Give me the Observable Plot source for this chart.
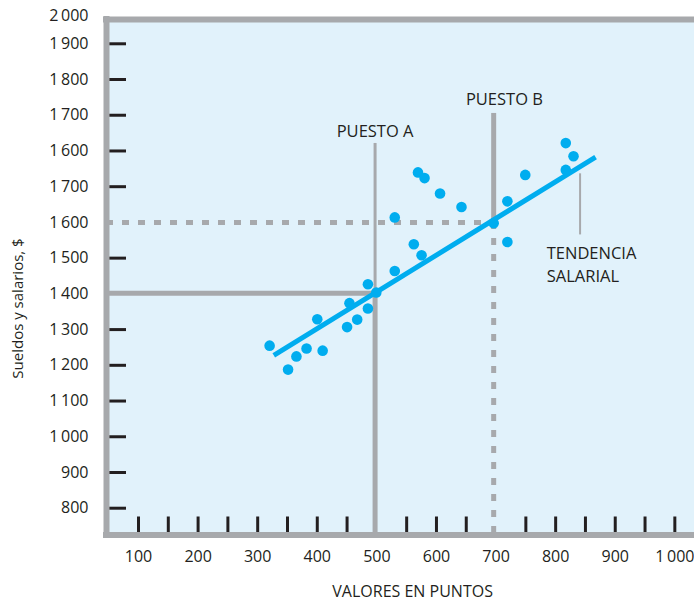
<!DOCTYPE html>
<html>
<head>
<meta charset="utf-8">
<script src="https://cdn.jsdelivr.net/npm/d3@7"></script>
<script src="https://cdn.jsdelivr.net/npm/@observablehq/plot@0.6"></script>
<style>
  html, body { margin: 0; padding: 0; background: #ffffff; }
  #chart { width: 694px; height: 603px; }
</style>
</head>
<body>
<div id="chart"></div>
<script>
// ---- data ----
const pointValues = [320, 351, 365, 382, 409, 400, 450, 467, 454, 485, 485, 499, 530, 530, 562, 575, 569, 580, 606, 642, 696, 719, 719, 749, 817, 830, 817];
const pointSalaries = [1255, 1188, 1225, 1247, 1241, 1329, 1307, 1328, 1374, 1359, 1427, 1404, 1464, 1614, 1539, 1508, 1740, 1724, 1681, 1643, 1598, 1659, 1545, 1733, 1747, 1785, 1822];
const trendValues = [327, 867];
const trendSalaries = [1228, 1783];
const xTickLabelValues = [100, 200, 300, 400, 500, 600, 700, 800, 900, 1000];
const xTickLabels = ["100", "200", "300", "400", "500", "600", "700", "800", "900", "1\u2009000"];
const xTickMarks = [100, 150, 200, 250, 300, 350, 400, 450, 550, 600, 650, 750, 800, 850, 900, 950, 1000];
const yTickValues = [800, 900, 1000, 1100, 1200, 1300, 1400, 1500, 1600, 1700, 1800, 1900, 2000, 2100, 2200];
const yTickLabels = ["800", "900", "1\u2009000", "1\u2009100", "1\u2009200", "1\u2009300", "1\u2009400", "1\u2009500", "1\u2009600", "1\u2009700", "1\u2009600", "1\u2009700", "1\u2009800", "1\u2009900", "2\u2009000"];
const puestoA = {value: 497, salary: 1402, top: 1821};
const puestoB = {value: 696, salary: 1600, top: 1905};
const leader = {value: 841, from: 1565, to: 1736};

// ---- layout / style ----
const W = 694, H = 603;
const mL = 106, mT = 19, mB = 68.5;
const xDom = [46.3, 1033];
const yDom = [725, 2168];
const gray = "#a7a9ac";
const blue = "#00adef";
const ink = "#231f20";
const fill = "#e1f2fb";

const points = pointValues.map((v, i) => ({x: v, y: pointSalaries[i]}));
const trend = trendValues.map((v, i) => ({x: v, y: trendSalaries[i]}));
const yTickData = yTickValues.map((v, i) => ({v, label: yTickLabels[i]}));
const yMarkTicks = yTickValues.filter(v => v <= yDom[1] && v !== 1400 && v !== 1600);

const chart = Plot.plot({
  width: W,
  height: H,
  marginLeft: mL,
  marginRight: 0,
  marginTop: mT,
  marginBottom: mB,
  x: {domain: xDom, axis: null},
  y: {domain: yDom, axis: null},
  style: {fontFamily: "'Open Sans', sans-serif", color: ink, background: "#ffffff", overflow: "visible"},
  marks: [
    Plot.frame({fill: fill, stroke: null}),
    // Puesto A
    Plot.ruleX([puestoA], {x: "value", y1: yDom[0], y2: "salary", stroke: gray, strokeWidth: 5}),
    Plot.ruleX([puestoA], {x: "value", y1: "salary", y2: "top", stroke: gray, strokeWidth: 3}),
    Plot.ruleY([puestoA], {y: "salary", x1: xDom[0], x2: "value", stroke: gray, strokeWidth: 5}),
    // Puesto B
    Plot.ruleX([puestoB], {x: "value", y1: "salary", y2: "top", stroke: gray, strokeWidth: 5}),
    Plot.ruleX([puestoB], {x: "value", y1: "salary", y2: yDom[0], stroke: gray, strokeWidth: 5, strokeDasharray: "7,9"}),
    Plot.ruleY([puestoB], {y: "salary", x1: xDom[0], x2: "value", stroke: gray, strokeWidth: 5, strokeDasharray: "7,9"}),
    // tick marks
    Plot.tickY(yMarkTicks, {y: d => d, stroke: ink, strokeWidth: 3, insetRight: W - mL - 20}),
    Plot.tickX(xTickMarks, {x: d => d, stroke: ink, strokeWidth: 3, insetTop: (H - mB - mT) - 18}),
    // frame borders (left, top, bottom)
    Plot.ruleX([xDom[0]], {y1: yDom[0], y2: yDom[1], stroke: gray, strokeWidth: 6, strokeLinecap: "square"}),
    Plot.ruleY([yDom[0], yDom[1]], {stroke: gray, strokeWidth: 6, strokeLinecap: "square"}),
    // leader line for trend label
    Plot.ruleX([leader], {x: "value", y1: "from", y2: "to", stroke: gray, strokeWidth: 2}),
    // trend line and dots
    Plot.line(trend, {x: "x", y: "y", stroke: blue, strokeWidth: 5, strokeLinecap: "butt"}),
    Plot.dot(points, {x: "x", y: "y", r: 5.3, fill: blue, stroke: null}),
    // tick labels
    Plot.text(xTickLabelValues, {x: d => d, y: yDom[0], dy: 22, text: (d, i) => xTickLabels[i], fontSize: 16, fill: ink}),
    Plot.text(yTickData.filter(d => d.v <= yDom[1]), {x: xDom[0], y: "v", dx: -18, textAnchor: "end", text: "label", fontSize: 16, fill: ink}),
    Plot.text(yTickData.filter(d => d.v > yDom[1]), {x: xDom[0], y: yDom[1], dy: -4, dx: -18, textAnchor: "end", text: "label", fontSize: 16, fill: ink}),
    // axis titles
    Plot.text(["VALORES EN PUNTOS"], {x: 560, y: yDom[0], dy: 56.5, text: d => d, fontSize: 16, fill: ink}),
    Plot.text(["Sueldos y salarios, $"], {x: xDom[0], y: 1359, dx: -88, rotate: -90, text: d => d, fontSize: 15, fill: ink}),
    // annotations
    Plot.text(["PUESTO A"], {x: puestoA.value, y: 1854, text: d => d, fontSize: 16.5, fill: ink}),
    Plot.text(["PUESTO B"], {x: 714, y: 1944, text: d => d, fontSize: 16.5, fill: ink}),
    Plot.text(["TENDENCIA\nSALARIAL"], {x: 785, y: 1485, textAnchor: "start", lineHeight: 1.35, text: d => d, fontSize: 16.5, fill: ink})
  ]
});
document.getElementById("chart").appendChild(chart);
</script>
</body>
</html>
